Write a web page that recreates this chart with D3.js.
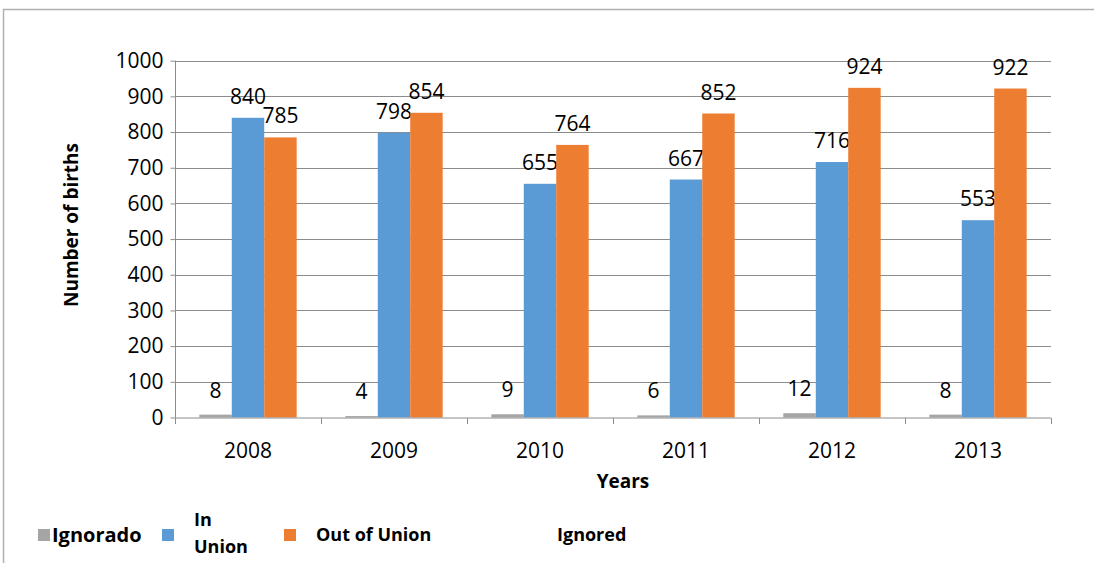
<!DOCTYPE html>
<html><head><meta charset="utf-8">
<script src="https://cdn.jsdelivr.net/npm/d3@7"></script>
<style>body{margin:0;background:#fff}svg{display:block;font-family:"Open Sans","Liberation Sans",sans-serif}</style>
</head><body><svg id="c" width="1094" height="563"></svg>
<script>
const years = ["2008","2009","2010","2011","2012","2013"];
const seriesNames = ["Ignorado","In Union","Out of Union"];
const ignorado = [8,4,9,6,12,8];
const inUnion = [840,798,655,667,716,553];
const outOfUnion = [785,854,764,852,924,922];
const yTicks = [0,100,200,300,400,500,600,700,800,900,1000];
const colors = ["#A5A5A5","#5B9BD5","#ED7D31"];

const svg = d3.select("#c");
// outer frame
svg.append("path").attr("d","M3.5,563 V9.5 H1094").attr("fill","none").attr("stroke","#b0b0b0").attr("stroke-width",1.5);

const x = d3.scaleBand().domain(years).range([175,1051]).paddingInner(1/3).paddingOuter(1/6);
const xs = d3.scaleBand().domain([0,1,2]).range([0,x.bandwidth()]);
const y = d3.scaleLinear().domain([0,1000]).range([417.5,60.7]);

// gridlines
svg.append("g").selectAll("line").data(yTicks.slice(1)).join("line")
  .attr("x1",175).attr("x2",1051).attr("y1",d=>Math.round(y(d))+0.5).attr("y2",d=>Math.round(y(d))+0.5)
  .attr("stroke","#8c8c8c").attr("stroke-width",1);

// y axis
const ya = svg.append("g").attr("transform","translate(175.5,0)")
  .call(d3.axisLeft(y).tickValues(yTicks).tickSize(5).tickPadding(7).tickFormat(d3.format("d")));
ya.select(".domain").attr("stroke","#8c8c8c").attr("d","M0,"+y(1000)+"V"+y(0));
ya.selectAll(".tick line").attr("stroke","#8c8c8c");
ya.selectAll(".tick text").attr("font-size",21).attr("fill","#000").attr("font-family","Open Sans");

// bars
const data = years.map((yr,i)=>({yr, vals:[ignorado[i],inUnion[i],outOfUnion[i]]}));
const g = svg.append("g");
data.forEach(d=>{
  d.vals.forEach((v,j)=>{
    g.append("rect").attr("x",x(d.yr)+xs(j)).attr("width",xs.bandwidth())
      .attr("y",y(v)).attr("height",y(0)-y(v)).attr("fill",colors[j]);
    g.append("text").attr("x",x(d.yr)+xs(j)+xs.bandwidth()/2).attr("y",y(v)-(j===0?17:14))
      .attr("text-anchor","middle").attr("font-size",21).text(v);
  });
});

// x axis
const xa = svg.append("g").attr("transform","translate(0,"+(y(0)+0.5)+")");
xa.append("line").attr("x1",175).attr("x2",1051).attr("stroke","#8c8c8c");
const bounds = d3.range(years.length+1).map(i=>175+i*x.step());
xa.selectAll("line.t").data(bounds).join("line").attr("class","t")
  .attr("x1",d=>Math.round(d)+0.5).attr("x2",d=>Math.round(d)+0.5).attr("y1",0).attr("y2",6).attr("stroke","#8c8c8c");
xa.selectAll("text").data(years).join("text")
  .attr("x",d=>x(d)+x.bandwidth()/2).attr("y",40).attr("text-anchor","middle").attr("font-size",21).text(d=>d);

// axis titles
svg.append("text").attr("transform","translate(78,225) rotate(-90)").attr("text-anchor","middle")
  .attr("font-size",19).attr("font-weight","bold").text("Number of births");
svg.append("text").attr("x",623).attr("y",488).attr("text-anchor","middle")
  .attr("font-size",19).attr("font-weight","bold").text("Years");

// legend
const lg = svg.append("g").attr("font-weight","bold").attr("font-size",18);
lg.append("rect").attr("x",38).attr("y",529).attr("width",12).attr("height",12).attr("fill",colors[0]);
lg.append("text").attr("x",52).attr("y",542).attr("font-size",20).text(seriesNames[0]);
lg.append("rect").attr("x",162).attr("y",529).attr("width",12).attr("height",12).attr("fill",colors[1]);
lg.append("text").attr("x",194).attr("y",526).text("In");
lg.append("text").attr("x",194).attr("y",553).text("Union");
lg.append("rect").attr("x",284).attr("y",529).attr("width",12).attr("height",12).attr("fill",colors[2]);
lg.append("text").attr("x",316).attr("y",541).text(seriesNames[2]);
lg.append("text").attr("x",557).attr("y",541).text("Ignored");
</script></body></html>
